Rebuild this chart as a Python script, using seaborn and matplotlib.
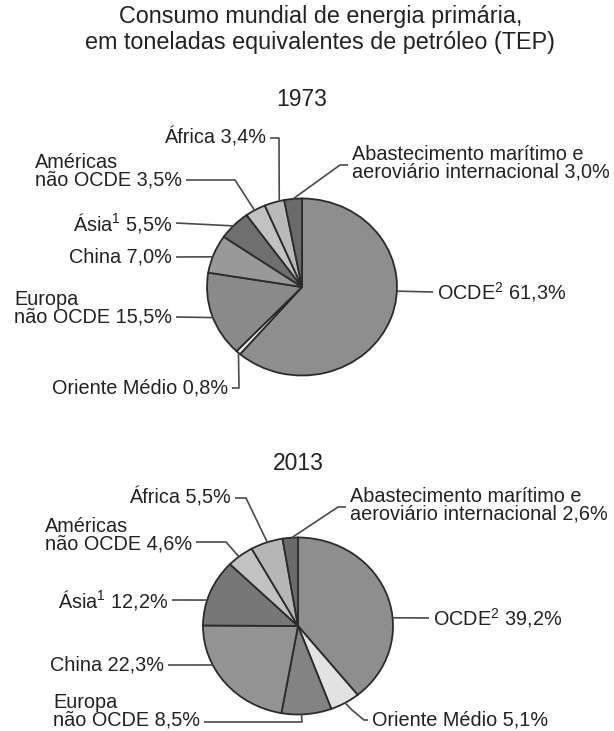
import numpy as np
import matplotlib.pyplot as plt
import seaborn as sns

# data
regioes = ["OCDE", "Oriente Médio", "Europa não OCDE", "China", "Ásia",
           "Américas não OCDE", "África", "Abastecimento"]
valores_1973 = [61.3, 0.8, 15.5, 7.0, 5.5, 3.5, 3.4, 3.0]
valores_2013 = [39.2, 5.1, 8.5, 22.3, 12.2, 4.6, 5.5, 2.6]
rotulos_1973 = ["OCDE$^2$ 61,3%", "Oriente Médio 0,8%", "Europa\nnão OCDE 15,5%",
                "China 7,0%", "Ásia$^1$ 5,5%", "Américas\nnão OCDE 3,5%",
                "África 3,4%", "Abastecimento marítimo e\naeroviário internacional 3,0%"]
rotulos_2013 = ["OCDE$^2$ 39,2%", "Oriente Médio 5,1%", "Europa\nnão OCDE 8,5%",
                "China 22,3%", "Ásia$^1$ 12,2%", "Américas\nnão OCDE 4,6%",
                "África 5,5%", "Abastecimento marítimo e\naeroviário internacional 2,6%"]
cores_1973 = ["#8e8e8e", "#ececec", "#8a8a8a", "#999999", "#6f6f6f", "#c2c2c2", "#b9b9b9", "#6a6a6a"]
cores_2013 = ["#8e8e8e", "#e2e2e2", "#838383", "#939393", "#777777", "#c2c2c2", "#b6b6b6", "#6a6a6a"]

sns.set_theme(style="white")
plt.rcParams["font.family"] = ["Liberation Sans", "DejaVu Sans"]
plt.rcParams["mathtext.fontset"] = "custom"
plt.rcParams["mathtext.rm"] = "Liberation Sans"

W, H = 614, 731
RX, RY = 95.0, 88.5
K = RX / RY  # vertical squash of the pies
FS = 14.3


def Y(py):
    return (H - py) * K


fig = plt.figure(figsize=(W / 100, H / 100), dpi=100)
ax = fig.add_axes([0, 0, 1, 1])

# layout per label: (text x, text y of last line, ha, leader y, knees in px, fraction along wedge)
lay_1973 = [
    (437, 292, "left", 292, [], 0.42),
    (228, 388, "right", 388, [(239, 388)], 0.45),
    (172, 317, "right", 317, [], 0.47),
    (172, 257, "right", 257, [], 0.42),
    (172, 223, "right", 223, [], 0.46),
    (182, 180, "right", 180, [(235, 180)], 0.45),
    (266, 138, "right", 138, [(279, 138)], 0.75),
    (352, 172, "left", 165, [(340, 165)], 0.5),
]
lay_2013 = [
    (433, 618, "left", 618, [], 0.6),
    (372, 720, "left", 720, [(364, 720), (352, 710)], 0.5),
    (200, 720, "right", 722, [(302, 722)], 0.6),
    (164, 665, "right", 665, [], 0.67),
    (168, 600, "right", 600, [], 0.38),
    (192, 544, "right", 542, [(226, 542)], 0.44),
    (231, 498, "right", 498, [(246, 498)], 0.52),
    (350, 514, "left", 507, [(338, 507)], 0.6),
]


def desenha(valores, cores, rotulos, lay, cx, cy, ano):
    wedges, _ = ax.pie(valores, colors=cores, startangle=90, counterclock=False,
                       center=(cx, Y(cy)), radius=RX, frame=True,
                       wedgeprops=dict(edgecolor="#2b2b2b", linewidth=1.3))
    for w, rot, (tx, ty, ha, ly, knees, frac) in zip(wedges, rotulos, lay):
        t1, t2 = w.theta1, w.theta2
        # wedges run clockwise, so start from theta2
        ang = np.deg2rad(t2 - frac * (t2 - t1))
        ex, ey = cx + RX * np.cos(ang), Y(cy) + RX * np.sin(ang)
        pts = [(tx + (4 if ha == "right" else -4), Y(ly))] + [(kx, Y(ky)) for kx, ky in knees] + [(ex, ey)]
        xs, ys = zip(*pts)
        ax.plot(xs, ys, color="#4a4a4a", lw=1.2, solid_capstyle="butt")
        if "\n" in rot:
            ax.text(tx, Y(ty - 9), rot, ha=ha, va="center", fontsize=FS,
                    color="#222222", linespacing=0.92, multialignment="left")
        else:
            ax.text(tx, Y(ty), rot, ha=ha, va="center", fontsize=FS, color="#222222")
    ax.text(cx, Y(ano[1]), ano[0], ha="center", va="center", fontsize=16.5, color="#222222")


desenha(valores_1973, cores_1973, rotulos_1973, lay_1973, 302, 287, ("1973", 100))
desenha(valores_2013, cores_2013, rotulos_2013, lay_2013, 298, 626, ("2013", 463))

ax.text(321, Y(16), "Consumo mundial de energia primária,", ha="center", va="center",
        fontsize=16.8, color="#222222")
ax.text(320, Y(43), "em toneladas equivalentes de petróleo (TEP)", ha="center", va="center",
        fontsize=16.8, color="#222222")

ax.set_aspect("auto")
ax.set_xlim(0, W)
ax.set_ylim(0, H * K)
ax.axis("off")
fig.savefig("out.png", dpi=100, facecolor="white")
